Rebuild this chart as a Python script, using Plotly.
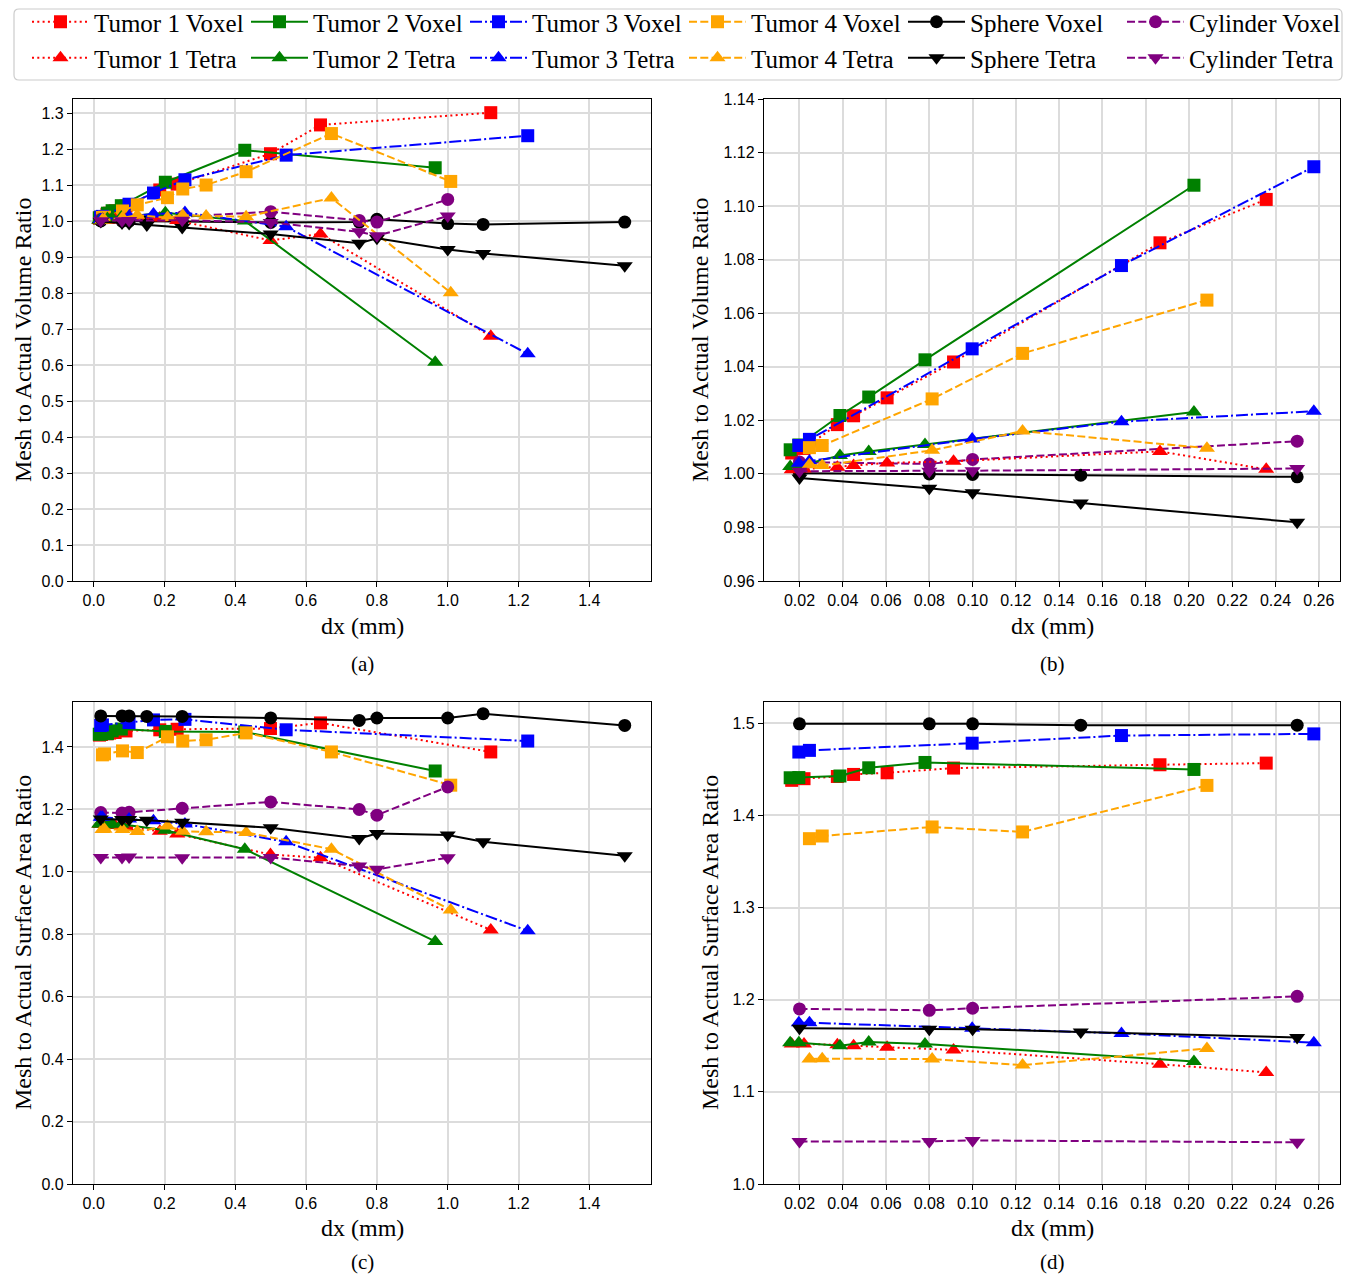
import plotly.graph_objects as go

# page body margin (px) of the written html; the layout is shifted to compensate
OFF = 8
W, H = 1354 - OFF, 1275 - OFF

# ---------------- data ----------------
shape_names = ["Tumor 1", "Tumor 2", "Tumor 3", "Tumor 4", "Sphere", "Cylinder"]

t1_dx = [0.0164, 0.0221, 0.0375, 0.0450, 0.0605, 0.0912, 0.1866, 0.2357, 0.4993, 0.6406, 1.1216]
t1_vox_vol = [1.0078, 1.0095, 1.0184, 1.0217, 1.0284, 1.0418, 1.0863, 1.1025, 1.187, 1.267, 1.301]
t1_tet_vol = [1.0015, 1.0018, 1.0025, 1.0031, 1.0041, 1.0047, 1.0084, 1.0017, 0.946, 0.964, 0.680]
t1_vox_area = [1.4380, 1.4398, 1.4422, 1.4444, 1.4462, 1.4513, 1.4549, 1.4567, 1.459, 1.477, 1.384]
t1_tet_area = [1.1520, 1.1520, 1.1510, 1.1500, 1.1484, 1.1455, 1.1300, 1.1211, 1.0555, 1.045, 0.814]

t2_dx = [0.0157, 0.0197, 0.0387, 0.0520, 0.0780, 0.2023, 0.4268, 0.9646]
t2_vox_vol = [1.0090, 1.0108, 1.0218, 1.0287, 1.0426, 1.1078, 1.1966, 1.148]
t2_tet_vol = [1.0028, 1.0030, 1.0069, 1.0084, 1.0110, 1.0231, 1.000, 0.6075]
t2_vox_area = [1.4408, 1.4410, 1.4427, 1.4516, 1.4574, 1.4498, 1.448, 1.323]
t2_tet_area = [1.1534, 1.1534, 1.1500, 1.1540, 1.1520, 1.1330, 1.0725, 0.777]

t3_dx = [0.0197, 0.0246, 0.0998, 0.1688, 0.2577, 0.5436, 1.2260]
t3_vox_vol = [1.0106, 1.0129, 1.0467, 1.0778, 1.1147, 1.183, 1.237]
t3_tet_vol = [1.0040, 1.0048, 1.0130, 1.0195, 1.0234, 0.984, 0.631]
t3_vox_area = [1.4687, 1.4705, 1.4783, 1.4866, 1.4884, 1.455, 1.419]
t3_tet_area = [1.1750, 1.1750, 1.1690, 1.1634, 1.1534, 1.096, 0.811]

t4_dx = [0.0246, 0.0305, 0.0813, 0.1231, 0.2083, 0.2515, 0.3175, 0.4305, 0.6715, 1.0085]
t4_vox_vol = [1.0098, 1.0106, 1.0280, 1.0450, 1.0649, 1.089, 1.100, 1.137, 1.243, 1.110]
t4_tet_vol = [1.0034, 1.0031, 1.0088, 1.0160, 1.0096, 1.016, 1.014, 1.012, 1.064, 0.801]
t4_vox_area = [1.3747, 1.3776, 1.3874, 1.3820, 1.4325, 1.419, 1.423, 1.445, 1.384, 1.2775]
t4_tet_area = [1.1355, 1.1360, 1.1355, 1.1290, 1.1470, 1.130, 1.128, 1.126, 1.0725, 0.878]

sph_dx = [0.02, 0.08, 0.10, 0.15, 0.25, 0.50, 0.75, 0.80, 1.00, 1.10, 1.50]
sph_vox_vol = [1.0002, 1.0000, 0.9998, 0.9995, 0.9989, 0.996, 0.997, 1.005, 0.993, 0.9907, 0.997]
sph_tet_vol = [0.9985, 0.9946, 0.9930, 0.9891, 0.9819, 0.964, 0.938, 0.952, 0.921, 0.910, 0.876]
sph_vox_area = [1.4993, 1.4993, 1.4993, 1.4978, 1.4978, 1.493, 1.485, 1.4927, 1.4927, 1.5066, 1.469]
sph_tet_area = [1.1690, 1.1680, 1.1680, 1.1650, 1.1590, 1.141, 1.107, 1.123, 1.1176, 1.0963, 1.0516]

cyl_dx = [0.02, 0.08, 0.10, 0.25, 0.50, 0.75, 0.80, 1.00]
cyl_vox_vol = [1.0044, 1.0037, 1.0054, 1.0122, 1.026, 1.0018, 0.997, 1.060]
cyl_tet_vol = [1.0010, 1.0010, 1.0012, 1.0020, 0.996, 0.970, 0.959, 1.0138]
cyl_vox_area = [1.1900, 1.1885, 1.1907, 1.2036, 1.224, 1.1997, 1.1816, 1.272]
cyl_tet_area = [1.0462, 1.0462, 1.0473, 1.0452, 1.046, 1.0185, 1.008, 1.0452]

# largest dx shown in the zoomed panels (b) and (d)
fine_cutoff = [0.26, 0.26, 0.26, 0.21, 0.26, 0.26]

dx_all = [t1_dx, t2_dx, t3_dx, t4_dx, sph_dx, cyl_dx]
vox_vol = [t1_vox_vol, t2_vox_vol, t3_vox_vol, t4_vox_vol, sph_vox_vol, cyl_vox_vol]
tet_vol = [t1_tet_vol, t2_tet_vol, t3_tet_vol, t4_tet_vol, sph_tet_vol, cyl_tet_vol]
vox_area = [t1_vox_area, t2_vox_area, t3_vox_area, t4_vox_area, sph_vox_area, cyl_vox_area]
tet_area = [t1_tet_area, t2_tet_area, t3_tet_area, t4_tet_area, sph_tet_area, cyl_tet_area]

# ---------------- styles ----------------
colors = ["#ff0000", "#008000", "#0000ff", "#ffa500", "#000000", "#800080"]
dashes = ["2px,3.3px", "solid", "12px,3px,2px,3px", "8px,3.3px", "solid", "8px,3.3px"]
vox_symbols = ["square", "square", "square", "square", "circle", "circle"]
tet_symbols = ["triangle-up"] * 4 + ["triangle-down"] * 2

SERIF = "Liberation Serif, Times New Roman, serif"
TICKFONT = dict(family="Liberation Sans, Arial, sans-serif", size=16, color="black")

fig = go.Figure()

panels = [("x", "y", vox_vol, tet_vol, False),
          ("x2", "y2", vox_vol, tet_vol, True),
          ("x3", "y3", vox_area, tet_area, False),
          ("x4", "y4", vox_area, tet_area, True)]

for pi, (xa, ya, vox, tet, fine) in enumerate(panels):
    for kind in ("Voxel", "Tetra"):
        vals_all = vox if kind == "Voxel" else tet
        syms = vox_symbols if kind == "Voxel" else tet_symbols
        for i, name in enumerate(shape_names):
            xs, ys = dx_all[i], vals_all[i]
            if fine:
                pairs = [(a, b) for a, b in zip(xs, ys) if a <= fine_cutoff[i]]
                xs = [p[0] for p in pairs]
                ys = [p[1] for p in pairs]
            msize = 13 if syms[i] in ("square", "circle") else 14
            fig.add_trace(go.Scatter(
                x=xs, y=ys, mode="lines+markers",
                name=f"{name} {kind}",
                xaxis=xa, yaxis=ya,
                line=dict(color=colors[i], width=2, dash=dashes[i]),
                marker=dict(symbol=syms[i], size=msize, color=colors[i], line=dict(width=0)),
                showlegend=(pi == 0),
                legend="legend" if kind == "Voxel" else "legend2",
            ))

# pixel positions are given in screen pixels of the reference image
def px_x(p):
    return (p - OFF) / W

def px_y(p):
    return 1 - (p - OFF) / H

LEFT = [73, 651]
RIGHT = [764, 1340]
TOP = [99, 581]
BOT = [702, 1184]

def xaxis_cfg(dom, rng, dtick, fmt):
    return dict(domain=[px_x(dom[0]), px_x(dom[1])], range=rng, dtick=dtick, tick0=0,
                tickformat=fmt, showgrid=True, gridcolor="#dcdcdc", gridwidth=1.5,
                zeroline=False, showline=True, linecolor="black", linewidth=1.3, mirror=True,
                ticks="outside", ticklen=5, tickcolor="black", tickfont=TICKFONT,
                automargin=False)

def yaxis_cfg(dom, rng, dtick, fmt, tick0=0):
    return dict(domain=[px_y(dom[1]), px_y(dom[0])], range=rng, dtick=dtick, tick0=tick0,
                tickformat=fmt, showgrid=True, gridcolor="#dcdcdc", gridwidth=1.5,
                zeroline=False, showline=True, linecolor="black", linewidth=1.3, mirror=True,
                ticks="outside", ticklen=5, tickcolor="black", tickfont=TICKFONT,
                automargin=False)

XR_COARSE = [-0.0585, 1.5742]
XR_FINE = [0.0036, 0.2698]

fig.update_layout(
    xaxis=dict(anchor="y", **xaxis_cfg(LEFT, XR_COARSE, 0.2, ".1f")),
    yaxis=dict(anchor="x", **yaxis_cfg(TOP, [0, 1.339], 0.1, ".1f")),
    xaxis2=dict(anchor="y2", **xaxis_cfg(RIGHT, XR_FINE, 0.02, ".2f")),
    yaxis2=dict(anchor="x2", **yaxis_cfg(TOP, [0.96, 1.14], 0.02, ".2f")),
    xaxis3=dict(anchor="y3", **xaxis_cfg(LEFT, XR_COARSE, 0.2, ".1f")),
    yaxis3=dict(anchor="x3", **yaxis_cfg(BOT, [0, 1.544], 0.2, ".1f")),
    xaxis4=dict(anchor="y4", **xaxis_cfg(RIGHT, XR_FINE, 0.02, ".2f")),
    yaxis4=dict(anchor="x4", **yaxis_cfg(BOT, [1.0, 1.523], 0.1, ".1f")),
)

annotations = []
def ann(text, x, y, size, angle=0):
    annotations.append(dict(text=text, x=px_x(x), y=px_y(y), xref="paper", yref="paper",
                            showarrow=False, xanchor="center", yanchor="middle",
                            textangle=angle, font=dict(family=SERIF, size=size, color="black")))

cx_l = (LEFT[0] + LEFT[1]) / 2
cx_r = (RIGHT[0] + RIGHT[1]) / 2
cy_t = (TOP[0] + TOP[1]) / 2
cy_b = (BOT[0] + BOT[1]) / 2
ann("dx (mm)", cx_l, 626, 24)
ann("dx (mm)", cx_r, 626, 24)
ann("dx (mm)", cx_l, 1228, 24)
ann("dx (mm)", cx_r, 1228, 24)
ann("(a)", cx_l, 664, 21)
ann("(b)", cx_r, 664, 21)
ann("(c)", cx_l, 1262, 21)
ann("(d)", cx_r, 1262, 21)
ann("Mesh to Actual Volume Ratio", 23, cy_t, 24, -90)
ann("Mesh to Actual Volume Ratio", 700, cy_t, 24, -90)
ann("Mesh to Actual Surface Area Ratio", 23, cy_b, 24, -90)
ann("Mesh to Actual Surface Area Ratio", 710, cy_b, 24, -90)

# legend frame (rounded rectangle, pixel coords converted to paper)
x0, x1, y0, y1, r = 14, 1342, 9, 80, 5
def P(x, y):
    return f"{px_x(x):.5f},{px_y(y):.5f}"
path = (f"M {P(x0 + r, y0)} L {P(x1 - r, y0)} Q {P(x1, y0)} {P(x1, y0 + r)} "
        f"L {P(x1, y1 - r)} Q {P(x1, y1)} {P(x1 - r, y1)} L {P(x0 + r, y1)} "
        f"Q {P(x0, y1)} {P(x0, y1 - r)} L {P(x0, y0 + r)} Q {P(x0, y0)} {P(x0 + r, y0)} Z")

ITEMW = 57
TEXT_START = 95
leg_common = dict(orientation="h", xanchor="left", yanchor="middle",
                  x=px_x(TEXT_START - ITEMW - 11),
                  font=dict(family=SERIF, size=25, color="black"),
                  bgcolor="rgba(0,0,0,0)", borderwidth=0,
                  itemwidth=ITEMW, entrywidth=147, tracegroupgap=0, itemclick=False)

fig.update_layout(
    width=W, height=H,
    margin=dict(l=0, r=0, t=0, b=0, autoexpand=False),
    paper_bgcolor="white", plot_bgcolor="white",
    annotations=annotations,
    shapes=[dict(type="path", path=path, xref="paper", yref="paper",
                 line=dict(color="#cccccc", width=1.2), fillcolor="rgba(255,255,255,0.8)", layer="below")],
    legend=dict(y=px_y(22), **leg_common),
    legend2=dict(y=px_y(58), **leg_common),
)

fig.write_html("out.html")
